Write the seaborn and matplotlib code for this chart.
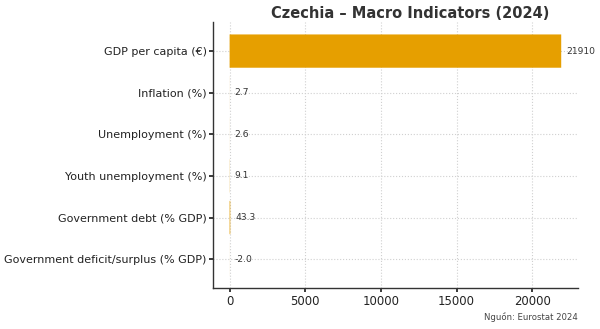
import matplotlib
matplotlib.use("Agg")
import matplotlib.pyplot as plt
import seaborn as sns
import pandas as pd

indicators = [
    "GDP per capita (€)",
    "Inflation (%)",
    "Unemployment (%)",
    "Youth unemployment (%)",
    "Government debt (% GDP)",
    "Government deficit/surplus (% GDP)",
]
values = [21910, 2.7, 2.6, 9.1, 43.3, -2.0]
value_labels = ["21910", "2.7", "2.6", "9.1", "43.3", "-2.0"]

df = pd.DataFrame({"indicator": indicators, "value": values})

sns.set_theme(style="whitegrid")
plt.rcParams["font.family"] = ["DejaVu Sans"]

fig, ax = plt.subplots(figsize=(6.0, 3.29), dpi=100)
sns.barplot(data=df, x="value", y="indicator", color="#E69F00",
            saturation=1, orient="h", linewidth=0, ax=ax)
# keep sub-pixel bars from being snapped away
for bar in ax.patches:
    bar.set_snap(False)
    bar.set_zorder(3)

offset = max(values) * 0.015
for i, (v, lab) in enumerate(zip(values, value_labels)):
    ax.text(max(v, 0) + offset, i, lab, va="center", ha="left",
            fontsize=6.6, color="#333333")

ax.set_ylim(5.69, -0.69)
ax.set_xlim(-1098, 23006)
ax.set_title("Czechia – Macro Indicators (2024)", fontsize=10.5,
             fontweight="bold", color="#333333", x=0.54, pad=3.5)
ax.set_xlabel("")
ax.set_ylabel("")
ax.grid(True, linestyle=":", color="#d0d0d0", linewidth=0.8)
ax.set_axisbelow(True)
for s in ["top", "right"]:
    ax.spines[s].set_visible(False)
for s in ["left", "bottom"]:
    ax.spines[s].set_color("#333333")
    ax.spines[s].set_linewidth(1.0)
ax.tick_params(axis="y", labelsize=8.0, colors="#222222", length=3,
               pad=1.5, left=True)
ax.tick_params(axis="x", labelsize=8.4, colors="#222222", length=3,
               pad=2, bottom=True)
ax.set_xticks([0, 5000, 10000, 15000, 20000])

fig.text(0.963, 0.02, "Nguồn: Eurostat 2024", ha="right", va="bottom",
         fontsize=6.1, color="#444444")
fig.subplots_adjust(left=0.355, right=0.963, top=0.932, bottom=0.125)
fig.savefig("out.png", dpi=100)
